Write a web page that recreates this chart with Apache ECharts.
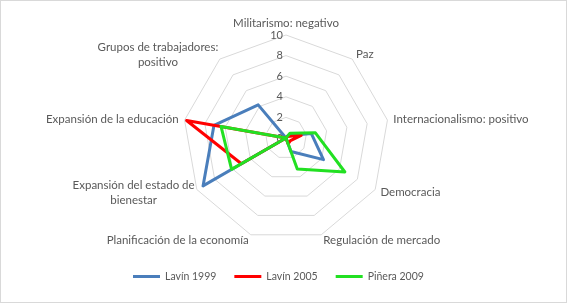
<!DOCTYPE html>
<html>
<head>
<meta charset="utf-8">
<script src="https://cdn.jsdelivr.net/npm/echarts@6/dist/echarts.min.js"></script>
<style>
html, body { margin: 0; padding: 0; background: #fff; }
#main { width: 567px; height: 303px; box-sizing: border-box; border: 1px solid #d9d9d9; }
</style>
</head>
<body>
<div id="main"></div>
<script>
// categories in clockwise order starting at the top
var categories = ['Militarismo: negativo', 'Paz', 'Internacionalismo: positivo', 'Democracia',
    'Regulación de mercado', 'Planificación de la economía', 'Expansión del estado de bienestar',
    'Expansión de la educación', 'Grupos de trabajadores: positivo'];
var lavin1999 = [0, 0.3, 2.5, 4.2, 1.4, 0, 9.3, 7.1, 4.2];
var lavin2005 = [0, 0.2, 1.5, 0.5, 0.6, 0, 5.0, 9.8, 0];
var pinera2009 = [0, 0.6, 2.9, 6.6, 3.2, 0, 6.1, 6.4, 0];
var tickLabels = ['0', '2', '4', '6', '8', '10'];

var labelBreaks = {
    'Expansión del estado de bienestar': ['Expansión del estado de', 'bienestar'],
    'Grupos de trabajadores: positivo': ['Grupos de trabajadores:', 'positivo']
};

// echarts lays out radar axes counter-clockwise, so flip the order after the first
function clockwise(arr) {
    return [arr[0]].concat(arr.slice(1).reverse());
}

var myChart = echarts.init(document.getElementById('main'));
var indicator = clockwise(categories).map(function (c, i) {
    var ind = { name: c, min: 0, max: 10 };
    if (i == 0) {
        ind.axisLabel = {
            show: true,
            color: '#595959',
            fontSize: 11,
            fontFamily: 'Lato',
            margin: 3,
            showMinLabel: true,
            showMaxLabel: true,
            formatter: function (v) { return tickLabels[Math.round(v / 2)]; }
        };
    }
    return ind;
});

var option = {
    animation: false,
    legend: {
        bottom: 15,
        left: 127,
        icon: 'rect',
        itemWidth: 27,
        itemHeight: 3,
        itemGap: 18,
        textStyle: { color: '#595959', fontSize: 10.5, fontFamily: 'Lato' },
        data: ['Lavín 1999', 'Lavín 2005', 'Piñera 2009']
    },
    radar: {
        center: [285, 137],
        radius: 103,
        startAngle: 90,
        splitNumber: 5,
        shape: 'polygon',
        indicator: indicator,
        axisName: {
            color: '#595959',
            fontSize: 11.5,
            fontFamily: 'Lato',
            formatter: function (name) {
                if (labelBreaks[name]) {
                    return labelBreaks[name].map(function (s) { return '{c|' + s + '}'; }).join('\n');
                }
                return name;
            },
            rich: {
                c: { width: 116, align: 'center', color: '#595959', fontSize: 11.5, fontFamily: 'Lato', lineHeight: 15 }
            }
        },
        nameGap: 6,
        axisLine: { show: false },
        axisTick: { show: false },
        axisLabel: { show: false },
        splitArea: { show: false },
        splitLine: { lineStyle: { color: '#d9d9d9', width: 1 } }
    },
    series: [{
        type: 'radar',
        symbol: 'none',
        data: [
            { name: 'Lavín 1999', value: clockwise(lavin1999),
              lineStyle: { color: '#4a7ebb', width: 3 }, itemStyle: { color: '#4a7ebb' } },
            { name: 'Lavín 2005', value: clockwise(lavin2005),
              lineStyle: { color: '#ff0000', width: 3 }, itemStyle: { color: '#ff0000' } },
            { name: 'Piñera 2009', value: clockwise(pinera2009),
              lineStyle: { color: '#22e022', width: 3 }, itemStyle: { color: '#22e022' } }
        ]
    }]
};
myChart.setOption(option);
</script>
</body>
</html>
